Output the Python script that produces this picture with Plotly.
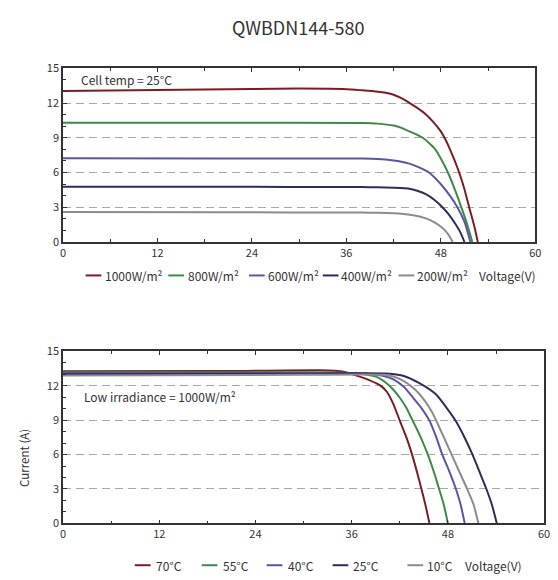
import plotly.graph_objects as go

# ---------------- data ----------------
title_text = "QWBDN144-580"
x_ticks = [0, 12, 24, 36, 48, 60]
y_ticks = [0, 3, 6, 9, 12, 15]

# Top chart: irradiance curves, cell temp 25°C
irr_labels = ["1000W/m²", "800W/m²", "600W/m²", "400W/m²", "200W/m²"]
irr_colors = ["#7b1e24", "#3d8b45", "#5a56a5", "#2d2c5c", "#8c8c8c"]

v_1000 = [0, 12, 24, 30, 36, 38, 40, 41, 42, 43, 44, 45, 46, 47, 48, 48.5, 49, 49.5, 50, 50.5,
          51, 51.6, 52.2, 52.7]
i_1000 = [13.05, 13.12, 13.22, 13.25, 13.2, 13.1, 12.98, 12.88, 12.72, 12.42, 12.02, 11.58, 11.08,
          10.4, 9.55, 8.95, 8.25, 7.45, 6.6, 5.65, 4.55, 3.0, 1.5, 0]

v_800 = [0, 20, 38, 40, 42, 43, 44, 45, 45.7, 46.5, 47.3, 48, 48.9, 49.8, 50.6, 51.3, 52.0]
i_800 = [10.3, 10.3, 10.27, 10.22, 10.05, 9.85, 9.55, 9.25, 9.0, 8.55, 8.0, 7.2, 6.0, 4.5, 3.0, 1.6, 0]

v_600 = [0, 20, 38, 40, 42, 43, 44, 45, 46.5, 47.3, 48.2, 49.2, 50.1, 51.0, 51.75]
i_600 = [7.22, 7.2, 7.2, 7.16, 7.03, 6.92, 6.76, 6.5, 6.0, 5.5, 4.83, 3.95, 3.0, 1.75, 0]

v_400 = [0, 20, 38, 40, 42, 44, 45, 46.1, 47.2, 48.2, 49.1, 49.9, 50.5, 51.0]
i_400 = [4.77, 4.76, 4.74, 4.72, 4.68, 4.6, 4.42, 4.12, 3.62, 3.0, 2.3, 1.5, 0.8, 0]

v_200 = [0, 20, 38, 40, 42, 43, 44.5, 46.1, 47.2, 48.2, 48.9, 49.5]
i_200 = [2.58, 2.56, 2.53, 2.52, 2.48, 2.44, 2.3, 2.03, 1.68, 1.2, 0.7, 0]

top_v = [v_1000, v_800, v_600, v_400, v_200]
top_i = [i_1000, i_800, i_600, i_400, i_200]

# Bottom chart: temperature curves, 1000 W/m²
temp_labels = ["70°C", "55°C", "40°C", "25°C", "10°C"]
temp_colors = ["#7b1e24", "#3d8b45", "#5a56a5", "#2d2c5c", "#8c8c8c"]

v_70 = [0, 20, 32, 35, 37.1, 39.1, 39.8, 40.4, 41.2, 42.0, 42.8, 43.4, 44.1, 44.7, 45.2, 45.7]
i_70 = [13.25, 13.28, 13.35, 13.22, 12.77, 12.2, 11.9, 11.45, 10.4, 8.96, 7.54, 6.3, 4.6, 3.0, 1.6, 0]

v_55 = [0, 30, 36, 39.1, 40.2, 41.2, 42.0, 42.8, 43.4, 44.0, 44.8, 45.5, 46.2, 46.9, 47.5, 48.0]
i_55 = [13.18, 13.18, 13.1, 12.77, 12.3, 11.65, 10.95, 10.1, 9.25, 8.4, 7.2, 6.0, 4.6, 3.0, 1.6, 0]

v_40 = [0, 30, 38, 40, 41.2, 42.5, 43.6, 44.7, 45.7, 46.5, 47.3, 48.2, 49.0, 49.6, 50.1]
i_40 = [13.1, 13.1, 13.05, 12.85, 12.55, 11.9, 11.0, 10.05, 8.96, 7.6, 6.0, 4.5, 3.0, 1.6, 0]

v_25 = [0, 30, 40.8, 42.5, 44.5, 46.5, 47.7, 49.0, 50.0, 51.0, 52.0, 52.8, 53.5, 54.1]
i_25 = [13.0, 13.05, 13.05, 12.85, 12.2, 11.25, 10.2, 8.9, 7.6, 6.1, 4.4, 3.0, 1.6, 0]

v_10 = [0, 30, 40, 41.2, 42.6, 44.0, 45.1, 46.1, 47.3, 48.3, 49.3, 50.4, 51.2, 51.8]
i_10 = [12.9, 12.95, 12.95, 12.8, 12.35, 11.6, 10.7, 9.6, 7.8, 6.25, 4.7, 3.0, 1.65, 0]

bot_v = [v_70, v_55, v_40, v_25, v_10]
bot_i = [i_70, i_55, i_40, i_25, i_10]

# ---------------- layout constants (pixels) ----------------
W, H = 558, 580
FONT = "Noto Sans CJK SC"
TXT = "#333333"


def px(x):
    return x / W


def py(y):
    return 1 - y / H


top_box = dict(l=61, r=541, t=61, b=239.5)
bot_box = dict(l=61, r=550, t=352, b=529)

# legend layout (pixel positions of swatch start, text start)
top_leg_y = 274
top_leg_line_x = [84, 168, 250, 325, 402]
top_leg_text_x = [102, 186, 267, 342, 419]
top_leg_vlt_x = 482
bot_leg_y = 572
bot_leg_line_x = [134, 202, 268, 335, 411]
bot_leg_text_x = [153, 222, 288, 354, 429]
bot_leg_vlt_x = 468
sw_len = 16

fig = go.Figure()

for vs, cs, c, n in zip(top_v, top_i, irr_colors, irr_labels):
    fig.add_trace(go.Scatter(x=vs, y=cs, mode="lines", name=n, showlegend=False,
                             line=dict(color=c, width=2, shape="spline", smoothing=0.6),
                             xaxis="x", yaxis="y"))
for vs, cs, c, n in zip(bot_v, bot_i, temp_colors, temp_labels):
    fig.add_trace(go.Scatter(x=vs, y=cs, mode="lines", name=n, showlegend=False,
                             line=dict(color=c, width=2, shape="spline", smoothing=0.6),
                             xaxis="x2", yaxis="y2"))


def xax(box, anchor):
    return dict(domain=[px(box["l"]), px(box["r"])], range=[0, 60], anchor=anchor,
                tickvals=x_ticks, ticks="inside", ticklen=4, tickwidth=1, tickcolor="#333",
                minor=dict(dtick=6, tick0=0, ticks="inside", ticklen=3, tickcolor="#333"),
                showline=True, linecolor="#333", linewidth=1.5, mirror="ticks",
                showgrid=False, zeroline=False,
                tickfont=dict(family=FONT, size=11, color=TXT), fixedrange=True)


def yax(box, anchor):
    return dict(domain=[py(box["b"]), py(box["t"])], range=[0, 15], anchor=anchor,
                tickvals=y_ticks, ticks="inside", ticklen=4, tickwidth=1, tickcolor="#333",
                minor=dict(dtick=1, tick0=0, ticks="inside", ticklen=3, tickcolor="#333"),
                showline=True, linecolor="#333", linewidth=1.5, mirror=True,
                showgrid=True, gridcolor="#a8a8a8", gridwidth=1.2, griddash="8px,5px",
                zeroline=False,
                tickfont=dict(family=FONT, size=11, color=TXT), fixedrange=True)


shapes = []
annotations = []


def legend_row(labels, colors, line_x, text_x, y, vlt_x):
    for lab, col, lx, tx in zip(labels, colors, line_x, text_x):
        shapes.append(dict(type="line", xref="paper", yref="paper",
                           x0=px(lx), x1=px(lx + sw_len), y0=py(y), y1=py(y),
                           line=dict(color=col, width=2)))
        annotations.append(dict(text=lab, xref="paper", yref="paper", x=px(tx), y=py(y),
                                xanchor="left", yanchor="middle", showarrow=False,
                                font=dict(family=FONT, size=12, color=TXT)))
    annotations.append(dict(text="Voltage(V)", xref="paper", yref="paper", x=px(vlt_x), y=py(y),
                            xanchor="left", yanchor="middle", showarrow=False,
                            font=dict(family=FONT, size=12, color=TXT)))


legend_row(irr_labels, irr_colors, top_leg_line_x, top_leg_text_x, top_leg_y, top_leg_vlt_x)
legend_row(temp_labels, temp_colors, bot_leg_line_x, bot_leg_text_x, bot_leg_y, bot_leg_vlt_x)

annotations.append(dict(text="Cell temp = 25°C", xref="paper", yref="paper", x=px(77), y=py(72),
                        xanchor="left", yanchor="middle", showarrow=False,
                        font=dict(family=FONT, size=12, color=TXT)))
annotations.append(dict(text="Low irradiance = 1000W/m²", xref="paper", yref="paper", x=px(80), y=py(398),
                        xanchor="left", yanchor="middle", showarrow=False,
                        font=dict(family=FONT, size=12, color=TXT)))
annotations.append(dict(text="Current (A)", xref="paper", yref="paper", x=px(22), y=py(462),
                        xanchor="center", yanchor="middle", showarrow=False, textangle=-90,
                        font=dict(family=FONT, size=11.5, color=TXT)))
annotations.append(dict(text=title_text, xref="paper", yref="paper", x=px(300), y=py(19),
                        xanchor="center", yanchor="middle", showarrow=False,
                        font=dict(family=FONT, size=18, color="#333")))

fig.update_layout(
    width=W, height=H,
    margin=dict(l=0, r=0, t=0, b=0),
    paper_bgcolor="white", plot_bgcolor="white",
    xaxis=xax(top_box, "y"), yaxis=yax(top_box, "x"),
    xaxis2=xax(bot_box, "y2"), yaxis2=yax(bot_box, "x2"),
    shapes=shapes, annotations=annotations,
    showlegend=False, hovermode=False,
)

# remove the page's default body margin so the figure fills the window exactly
fig.write_html("out.html", config={"displayModeBar": False},
               post_script="document.body.style.margin='0px';")
